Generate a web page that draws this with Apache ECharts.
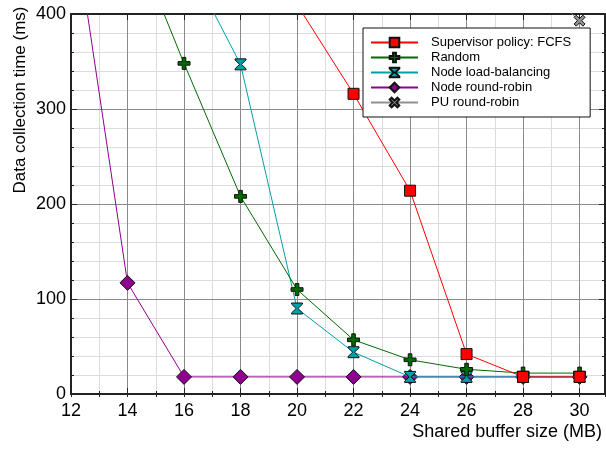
<!DOCTYPE html>
<html>
<head>
<meta charset="utf-8">
<script src="https://cdn.jsdelivr.net/npm/echarts@6/dist/echarts.min.js"></script>
<style>html,body{margin:0;padding:0;background:#fff;}#c{width:606px;height:449px;}</style>
</head>
<body>
<div id="c"></div>
<script>
const bufferSizes = [12, 14, 16, 18, 20, 22, 24, 26, 28, 30];
const fcfs   = [null, null, null, null, 410, 316, 214, 42, 18, 18];
const random = [null, 495, 348, 208, 110, 57, 36, 26, 22, 22];
const nodeLB = [null, null, 462, 347, 90, 44, 18, 18, 18, 18];
const nodeRR = [516, 117, 18, 18, 18, 18, 18, 18, 18, 18];
const puRR   = [null, null, null, null, null, null, null, null, 445, 393];
const seriesNames = ['Supervisor policy: FCFS', 'Random', 'Node load-balancing', 'Node round-robin', 'PU round-robin'];
const xTitle = 'Shared buffer size (MB)';
const yTitle = 'Data collection time (ms)';

const FONT = 'Liberation Sans, Arial, sans-serif';
const pairs = arr => bufferSizes.map((x, i) => [x, arr[i]]);

const plusPath = 'path://M3.5,0 H6.5 V3.5 H10 V6.5 H6.5 V10 H3.5 V6.5 H0 V3.5 H3.5 Z';
const hourglassPath = 'path://M0,0 H10 V1 L5.8,5 L10,9 V10 H0 V9 L4.2,5 L0,1 Z';
const xPath = 'path://M2,0 L5,3 L8,0 L10,2 L7,5 L10,8 L8,10 L5,7 L2,10 L0,8 L3,5 L0,2 Z';

function mk(name, data, color, symbol, size, z) {
  return {
    name, type: 'line', data: pairs(data), xAxisIndex: 0, yAxisIndex: 0,
    symbol, symbolSize: size, showAllSymbol: true, connectNulls: false, clip: true, z,
    lineStyle: { color, width: 1 },
    itemStyle: { color: color, borderColor: '#111', borderWidth: 1 },
    emphasis: { disabled: true }
  };
}

const frame = { show: true, onZero: false, lineStyle: { color: '#222', width: 2 } };
const majorSplit = { show: true, lineStyle: { color: '#8a8a8a', width: 1 } };

const chart = echarts.init(document.getElementById('c'), null, { renderer: 'canvas' });
chart.setOption({
  animation: false,
  backgroundColor: '#fff',
  grid: { left: 71, right: 1, top: 14, bottom: 55 },
  xAxis: [
    { type: 'value', position: 'bottom', min: 12, max: 30.9, interval: 2,
      axisLine: frame, axisTick: { show: true, inside: true, length: 6, lineStyle: { color: '#222', width: 1 } },
      axisLabel: { fontFamily: FONT, fontSize: 18, color: '#000', margin: 8, showMaxLabel: false },
      splitLine: majorSplit, z: 3 },
    { type: 'value', position: 'top', min: 12, max: 30.9, interval: 2,
      axisLine: frame, axisTick: { show: true, inside: true, length: 6, lineStyle: { color: '#222', width: 1 } },
      axisLabel: { show: false }, splitLine: { show: false }, z: 3 },
    { type: 'value', position: 'bottom', min: 12, max: 30.9, interval: 1,
      axisLine: { show: false }, axisTick: { show: true, inside: true, length: 3, lineStyle: { color: '#222', width: 1 } },
      axisLabel: { show: false }, splitLine: { show: true, lineStyle: { color: '#dcdcdc', width: 1 } }, z: 1 },
    { type: 'value', position: 'top', min: 12, max: 30.9, interval: 1,
      axisLine: { show: false }, axisTick: { show: true, inside: true, length: 3, lineStyle: { color: '#222', width: 1 } },
      axisLabel: { show: false }, splitLine: { show: false }, z: 1 }
  ],
  yAxis: [
    { type: 'value', position: 'left', min: 0, max: 400, interval: 100,
      axisLine: frame, axisTick: { show: true, inside: true, length: 6, lineStyle: { color: '#222', width: 1 } },
      minorTick: { show: true, splitNumber: 5, length: 3, lineStyle: { color: '#222', width: 1 } },
      minorSplitLine: { show: true, lineStyle: { color: '#dcdcdc', width: 1 } },
      axisLabel: { fontFamily: FONT, fontSize: 18, color: '#000', margin: 5 },
      splitLine: majorSplit, z: 3 },
    { type: 'value', position: 'right', min: 0, max: 400, interval: 100,
      axisLine: frame, axisTick: { show: true, inside: true, length: 6, lineStyle: { color: '#222', width: 1 } },
      minorTick: { show: true, splitNumber: 5, length: 3, lineStyle: { color: '#222', width: 1 } },
      axisLabel: { show: false }, splitLine: { show: false }, z: 3 }
  ],
  legend: {
    orient: 'vertical', left: 363, top: 28,
    backgroundColor: '#fff', borderColor: '#111', borderWidth: 1, borderRadius: 0,
    padding: [8, 19, 8, 7], itemGap: 2, itemWidth: 47, itemHeight: 12, itemTextGap: 14,
    textStyle: { fontFamily: FONT, fontSize: 13, color: '#000', lineHeight: 13, padding: [0, 0, 0, 8] },
    data: seriesNames, selectedMode: false, z: 10
  },
  graphic: [
    { type: 'text', right: 4, top: 423, style: { text: xTitle, font: '18px ' + FONT, fill: '#000' } },
    { type: 'text', x: 20, y: 100, rotation: Math.PI / 2,
      style: { text: yTitle, font: '17px ' + FONT, fill: '#000', align: 'center', verticalAlign: 'middle' } }
  ],
  series: [
    mk(seriesNames[0], fcfs, '#ff0000', 'rect', 11, 7),
    mk(seriesNames[1], random, '#006a00', plusPath, 12, 6),
    mk(seriesNames[2], nodeLB, '#00a0a8', hourglassPath, 11, 5),
    mk(seriesNames[3], nodeRR, '#8e008e', 'diamond', 15, 4),
    mk(seriesNames[4], puRR, '#909090', xPath, 11, 3)
  ]
});
</script>
</body>
</html>
